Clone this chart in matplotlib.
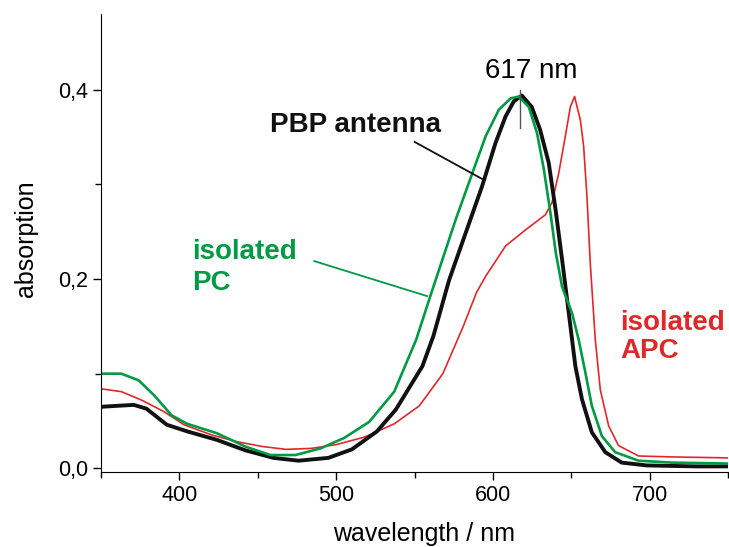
import matplotlib.pyplot as plt
from matplotlib.ticker import MultipleLocator, FuncFormatter

plt.rcParams['font.family'] = ['Liberation Sans', 'DejaVu Sans']

# PBP antenna (black)
wl_pbp = [350, 360, 371, 379, 392, 405, 424, 442, 460, 476, 495, 510, 526, 538, 555, 562, 572,
          582.6, 593, 601.6, 608, 613.3, 618.4, 624.7, 630, 635.5, 640, 644, 648.3, 652.5, 656.7,
          663, 671.6, 682, 698, 730, 750]
abs_pbp = [0.065, 0.066, 0.067, 0.063, 0.046, 0.039, 0.030, 0.019, 0.011, 0.008, 0.011, 0.020, 0.039,
           0.062, 0.108, 0.140, 0.199, 0.249, 0.298, 0.344, 0.372, 0.388, 0.394, 0.382, 0.358, 0.323,
           0.272, 0.221, 0.164, 0.108, 0.073, 0.038, 0.017, 0.006, 0.003, 0.002, 0.002]

# isolated PC (green)
wl_pc = [350, 363, 374, 384, 395, 405, 424, 442, 458, 474, 490, 505, 521, 537, 551, 560, 565.6,
         576.2, 586.8, 595.3, 603.7, 611.2, 616.4, 622.8, 628.1, 632.4, 636.6, 640, 644, 650.4,
         654.6, 658.9, 663, 669.4, 677.9, 692.8, 714, 750]
abs_pc = [0.100, 0.100, 0.093, 0.077, 0.056, 0.047, 0.037, 0.023, 0.014, 0.014, 0.021, 0.032, 0.049,
          0.081, 0.136, 0.182, 0.210, 0.263, 0.312, 0.351, 0.379, 0.391, 0.393, 0.382, 0.354, 0.316,
          0.270, 0.228, 0.192, 0.164, 0.136, 0.101, 0.066, 0.034, 0.017, 0.008, 0.006, 0.005]

# isolated APC (red)
wl_apc = [350, 363, 376, 390, 403, 421, 437, 453, 468, 484, 500, 518, 537, 553, 568, 581, 589.5,
          595.3, 608, 620.7, 633.4, 637.6, 641.9, 646.1, 649.3, 652, 655.7, 657.8, 659.9, 662,
          665.2, 668.4, 673.7, 680, 692.8, 714, 750]
abs_apc = [0.084, 0.081, 0.072, 0.060, 0.046, 0.035, 0.028, 0.023, 0.020, 0.021, 0.025, 0.033, 0.047,
           0.066, 0.100, 0.150, 0.186, 0.203, 0.235, 0.252, 0.268, 0.281, 0.312, 0.351, 0.382, 0.393,
           0.368, 0.340, 0.287, 0.217, 0.136, 0.083, 0.045, 0.024, 0.013, 0.012, 0.011]

black = '#111111'
green = '#009a44'
red = '#e0282b'

fig = plt.figure(figsize=(7.29, 5.47), dpi=100)
ax = fig.add_axes([0.1385, 0.137, 0.8605, 0.837])

ax.plot(wl_apc, abs_apc, color=red, lw=1.2)
ax.plot(wl_pbp, abs_pbp, color=black, lw=2.8)
ax.plot(wl_pc, abs_pc, color=green, lw=1.9)

ax.set_xlim(350, 750)
ax.set_ylim(-0.004, 0.48)
ax.spines['top'].set_visible(False)
ax.spines['right'].set_visible(False)
ax.xaxis.set_major_locator(MultipleLocator(100))
ax.xaxis.set_minor_locator(MultipleLocator(50))
ax.yaxis.set_major_locator(MultipleLocator(0.2))
ax.yaxis.set_minor_locator(MultipleLocator(0.1))
ax.yaxis.set_major_formatter(FuncFormatter(lambda v, p: f'{v:.1f}'.replace('.', ',')))
ax.tick_params(which='major', length=6, width=1, labelsize=15.5)
ax.tick_params(which='minor', length=4, width=1)
ax.set_xlabel('wavelength / nm', fontsize=18, labelpad=11, x=0.515)
ax.set_ylabel('absorption', fontsize=18, labelpad=14, y=0.51)

# peak marker
ax.plot([617, 617], [0.36, 0.40], color='#555555', lw=1)
ax.text(624.5, 0.413, '617 nm', fontsize=20, ha='center', va='baseline')

# labels
ax.text(512, 0.363, 'PBP antenna', fontsize=20, fontweight='bold', color=black, ha='center', va='center')
ax.plot([550, 594], [0.345, 0.305], color=black, lw=1.3)

ax.text(408, 0.212, 'isolated\nPC', fontsize=20, fontweight='bold', color=green,
        ha='left', va='center', linespacing=1.25)
ax.plot([486, 558], [0.219, 0.182], color=green, lw=1.3)

ax.text(681, 0.139, 'isolated\nAPC', fontsize=20, fontweight='bold', color=red,
        ha='left', va='center', linespacing=1.12)

fig.savefig('out.png', dpi=100)
